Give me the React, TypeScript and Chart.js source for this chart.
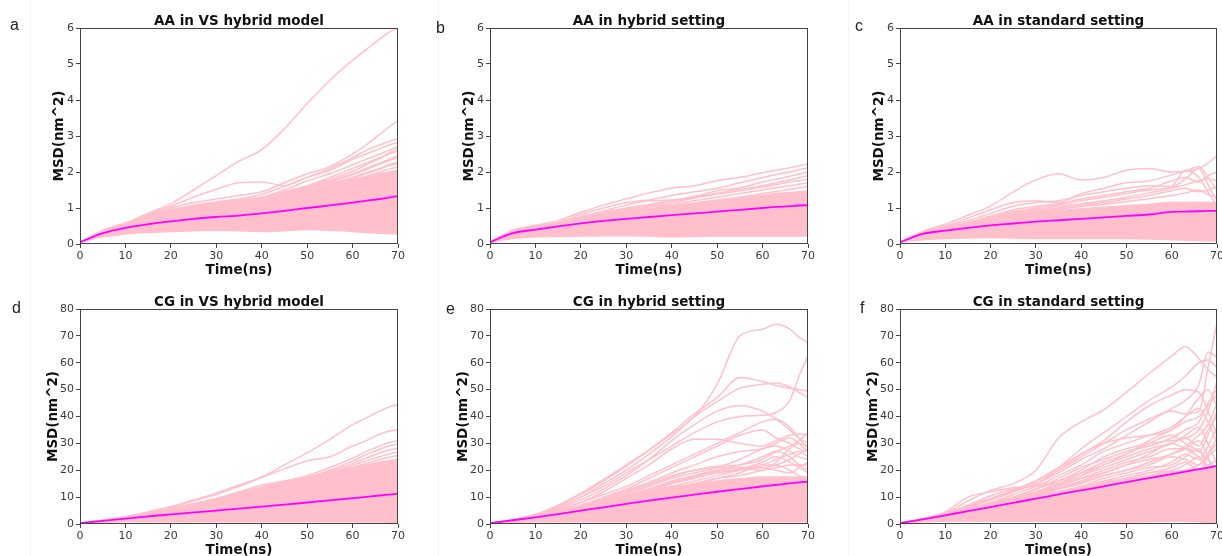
import React, { useEffect, useRef } from "react";
import { Chart, registerables } from "chart.js";

Chart.register(...registerables);

// ---------- data ----------
const TIME = [0, 5, 10, 15, 20, 25, 30, 35, 40, 45, 50, 55, 60, 63, 66, 68, 70];

// a: AA in VS hybrid model
const A_MEAN = [0.05, 0.3, 0.45, 0.55, 0.63, 0.7, 0.75, 0.79, 0.85, 0.92, 1.0, 1.07, 1.15, 1.2, 1.25, 1.29, 1.33];
const A_LOW = [0.05, 0.2, 0.28, 0.32, 0.35, 0.37, 0.38, 0.37, 0.35, 0.37, 0.4, 0.38, 0.35, 0.32, 0.3, 0.29, 0.28];
const A_HIGH = [0.05, 0.38, 0.58, 0.78, 0.95, 1.08, 1.17, 1.23, 1.3, 1.42, 1.55, 1.65, 1.8, 1.87, 1.95, 2.0, 2.05];
const A_RUN1 = [0.05, 0.33, 0.58, 0.85, 1.12, 1.5, 1.9, 2.3, 2.62, 3.2, 3.9, 4.55, 5.1, 5.4, 5.7, 5.88, 6.0];
const A_RUN2 = [0.05, 0.32, 0.55, 0.8, 1.0, 1.15, 1.25, 1.35, 1.45, 1.7, 1.95, 2.15, 2.5, 2.75, 3.05, 3.25, 3.42];
const A_RUN3 = [0.05, 0.32, 0.56, 0.82, 1.05, 1.3, 1.52, 1.7, 1.72, 1.62, 1.85, 2.1, 2.4, 2.6, 2.75, 2.85, 2.92];
const A_RUN4 = [0.05, 0.3, 0.52, 0.72, 0.9, 1.05, 1.15, 1.25, 1.38, 1.6, 1.85, 2.05, 2.35, 2.5, 2.65, 2.75, 2.82];
const A_RUN5 = [0.05, 0.3, 0.5, 0.7, 0.88, 1.0, 1.1, 1.2, 1.3, 1.5, 1.75, 1.95, 2.2, 2.35, 2.5, 2.6, 2.72];
const A_RUN6 = [0.05, 0.3, 0.5, 0.68, 0.85, 0.98, 1.08, 1.18, 1.28, 1.45, 1.62, 1.85, 2.1, 2.25, 2.4, 2.5, 2.58];
const A_RUN7 = [0.05, 0.3, 0.48, 0.65, 0.82, 0.95, 1.05, 1.15, 1.25, 1.42, 1.58, 1.75, 1.95, 2.1, 2.25, 2.35, 2.45];
const A_RUN8 = [0.05, 0.29, 0.47, 0.63, 0.8, 0.92, 1.03, 1.12, 1.2, 1.35, 1.52, 1.68, 1.85, 1.98, 2.1, 2.2, 2.28];
const A_RUN9 = [0.05, 0.3, 0.5, 0.67, 0.83, 0.96, 1.07, 1.16, 1.25, 1.4, 1.6, 1.8, 2.02, 2.2, 2.38, 2.52, 2.65];
const A_RUN10 = [0.05, 0.29, 0.48, 0.64, 0.8, 0.93, 1.04, 1.14, 1.22, 1.36, 1.54, 1.72, 1.92, 2.07, 2.22, 2.32, 2.4];
const A_RUN11 = [0.05, 0.29, 0.47, 0.62, 0.78, 0.9, 1.0, 1.1, 1.2, 1.32, 1.48, 1.64, 1.82, 1.96, 2.08, 2.18, 2.22];
const A_RUN12 = [0.05, 0.28, 0.46, 0.6, 0.75, 0.88, 0.98, 1.08, 1.17, 1.28, 1.42, 1.58, 1.75, 1.88, 2.0, 2.08, 2.14];

// b: AA in hybrid setting
const B_MEAN = [0.05, 0.3, 0.4, 0.49, 0.57, 0.64, 0.7, 0.75, 0.8, 0.85, 0.9, 0.95, 1.0, 1.03, 1.05, 1.07, 1.08];
const B_LOW = [0.05, 0.15, 0.2, 0.21, 0.22, 0.23, 0.23, 0.22, 0.2, 0.21, 0.22, 0.22, 0.22, 0.22, 0.22, 0.22, 0.22];
const B_HIGH = [0.05, 0.35, 0.5, 0.57, 0.7, 0.8, 0.9, 0.97, 1.05, 1.12, 1.2, 1.28, 1.35, 1.4, 1.43, 1.45, 1.47];
const B_RUN1 = [0.05, 0.38, 0.52, 0.65, 0.88, 1.08, 1.25, 1.42, 1.55, 1.62, 1.76, 1.85, 1.98, 2.05, 2.12, 2.17, 2.22];
const B_RUN2 = [0.05, 0.36, 0.5, 0.6, 0.82, 1.0, 1.15, 1.22, 1.35, 1.45, 1.55, 1.7, 1.85, 1.93, 2.0, 2.06, 2.12];
const B_RUN3 = [0.05, 0.35, 0.5, 0.58, 0.76, 0.92, 1.08, 1.2, 1.22, 1.32, 1.48, 1.56, 1.72, 1.8, 1.88, 1.94, 2.0];
const B_RUN4 = [0.05, 0.35, 0.49, 0.57, 0.73, 0.88, 1.0, 1.1, 1.2, 1.3, 1.42, 1.52, 1.62, 1.7, 1.78, 1.84, 1.9];
const B_RUN5 = [0.05, 0.34, 0.48, 0.56, 0.72, 0.85, 0.97, 1.06, 1.15, 1.28, 1.38, 1.48, 1.58, 1.65, 1.72, 1.76, 1.8];
const B_RUN6 = [0.05, 0.34, 0.47, 0.55, 0.7, 0.82, 0.94, 1.02, 1.1, 1.2, 1.3, 1.4, 1.5, 1.56, 1.62, 1.66, 1.7];
const B_RUN7 = [0.05, 0.33, 0.46, 0.54, 0.68, 0.8, 0.9, 0.98, 1.06, 1.14, 1.22, 1.3, 1.4, 1.46, 1.52, 1.56, 1.6];

// c: AA in standard setting
const C_MEAN = [0.05, 0.28, 0.37, 0.45, 0.52, 0.57, 0.62, 0.66, 0.7, 0.74, 0.78, 0.82, 0.89, 0.9, 0.91, 0.92, 0.92];
const C_LOW = [0.05, 0.12, 0.15, 0.17, 0.18, 0.17, 0.15, 0.15, 0.15, 0.15, 0.15, 0.14, 0.12, 0.11, 0.1, 0.09, 0.08];
const C_HIGH = [0.05, 0.32, 0.45, 0.58, 0.7, 0.8, 0.88, 0.93, 0.98, 1.02, 1.06, 1.1, 1.15, 1.15, 1.15, 1.15, 1.15];
const C_RUN1 = [0.05, 0.35, 0.55, 0.8, 1.05, 1.45, 1.78, 1.95, 1.78, 1.85, 2.05, 2.1, 2.0, 2.02, 2.1, 2.25, 2.45];
const C_RUN2 = [0.05, 0.33, 0.5, 0.72, 0.95, 1.15, 1.2, 1.15, 1.4, 1.55, 1.7, 1.75, 1.92, 2.02, 2.15, 1.85, 1.5];
const C_RUN3 = [0.05, 0.32, 0.48, 0.65, 0.85, 1.05, 1.15, 1.2, 1.35, 1.45, 1.55, 1.62, 1.6, 1.8, 2.1, 1.65, 1.2];
const C_RUN4 = [0.05, 0.3, 0.45, 0.6, 0.78, 0.95, 1.05, 1.12, 1.25, 1.35, 1.45, 1.55, 1.75, 1.85, 1.72, 1.9, 2.0];
const C_RUN5 = [0.05, 0.3, 0.44, 0.58, 0.75, 0.9, 1.0, 1.1, 1.2, 1.3, 1.4, 1.5, 1.6, 2.05, 1.85, 1.45, 1.05];
const C_RUN6 = [0.05, 0.3, 0.44, 0.57, 0.72, 0.86, 0.96, 1.05, 1.12, 1.2, 1.3, 1.42, 1.55, 1.65, 1.75, 1.82, 1.75];
const C_RUN7 = [0.05, 0.29, 0.43, 0.56, 0.7, 0.82, 0.93, 1.0, 1.08, 1.15, 1.25, 1.35, 1.48, 1.55, 1.45, 1.5, 1.6];
const C_RUN8 = [0.05, 0.29, 0.42, 0.55, 0.68, 0.8, 0.9, 0.97, 1.04, 1.1, 1.18, 1.26, 1.35, 1.42, 1.5, 1.38, 1.3];

// d: CG in VS hybrid model
const D_MEAN = [0.3, 1.2, 2.0, 2.8, 3.6, 4.3, 5.0, 5.7, 6.5, 7.2, 8.0, 8.8, 9.6, 10.1, 10.6, 10.9, 11.2];
const D_LOW = [0.3, 0.6, 0.8, 0.8, 0.8, 0.8, 0.8, 0.8, 0.8, 0.8, 0.8, 0.8, 0.8, 0.75, 0.7, 0.6, 0.5];
const D_HIGH = [0.3, 1.3, 2.4, 3.8, 5.5, 7.2, 9.0, 11.2, 13.5, 15.5, 17.5, 19.5, 21.0, 22.0, 23.0, 23.5, 24.0];
const D_RUN1 = [0.3, 1.4, 2.8, 4.5, 6.5, 9.0, 11.5, 14.5, 17.5, 22.0, 26.5, 31.5, 37.0, 39.5, 42.0, 43.5, 44.5];
const D_RUN2 = [0.3, 1.4, 2.7, 4.3, 6.3, 8.6, 11.0, 14.0, 17.3, 20.5, 23.5, 25.0, 29.0, 31.0, 33.5, 34.5, 35.0];
const D_RUN3 = [0.3, 1.3, 2.5, 4.0, 5.8, 7.6, 9.5, 12.0, 14.5, 16.0, 18.0, 21.0, 24.5, 27.0, 29.0, 30.3, 31.0];
const D_RUN4 = [0.3, 1.3, 2.5, 3.9, 5.7, 7.4, 9.3, 11.6, 13.8, 15.6, 17.2, 20.0, 23.5, 25.8, 27.8, 29.0, 29.8];
const D_RUN5 = [0.3, 1.3, 2.4, 3.9, 5.6, 7.3, 9.2, 11.4, 13.6, 15.4, 17.0, 19.5, 22.5, 24.5, 26.5, 27.5, 28.2];
const D_RUN6 = [0.3, 1.3, 2.4, 3.8, 5.5, 7.2, 9.1, 11.3, 13.5, 15.3, 16.8, 19.0, 21.8, 23.5, 25.0, 26.0, 26.8];
const D_RUN7 = [0.3, 1.3, 2.4, 3.8, 5.5, 7.2, 9.0, 11.2, 13.5, 15.2, 16.6, 18.5, 21.0, 22.5, 24.0, 24.8, 25.5];

// e: CG in hybrid setting
const E_MEAN = [0.3, 1.4, 2.5, 3.7, 5.0, 6.2, 7.5, 8.7, 9.8, 10.9, 12.0, 13.0, 14.0, 14.6, 15.1, 15.5, 15.8];
const E_LOW = [0.3, 0.6, 0.8, 0.8, 0.8, 0.8, 0.8, 0.8, 0.8, 0.8, 0.8, 0.8, 0.8, 0.8, 0.8, 0.8, 0.8];
const E_HIGH = [0.3, 1.5, 3.0, 4.8, 6.8, 8.8, 10.5, 12.2, 13.8, 15.0, 16.0, 16.8, 17.5, 17.5, 17.5, 17.5, 17.5];
const E_RUN1 = [0.3, 1.6, 3.6, 7.0, 11.5, 16.5, 22.0, 27.5, 33.5, 40.0, 52.0, 70.0, 72.5, 74.3, 72.5, 69.5, 67.5];
const E_RUN2 = [0.3, 1.6, 3.4, 6.6, 11.0, 16.0, 21.5, 27.5, 34.0, 41.0, 47.0, 54.5, 53.0, 51.5, 50.5, 50.0, 49.5];
const E_RUN3 = [0.3, 1.5, 3.2, 6.0, 10.0, 14.0, 19.0, 24.0, 29.0, 34.0, 38.0, 40.0, 40.5, 41.5, 46.0, 55.0, 62.5];
const E_RUN4 = [0.3, 1.5, 3.2, 6.0, 10.0, 15.0, 20.0, 26.0, 32.5, 40.0, 45.5, 50.5, 52.0, 52.5, 51.0, 49.0, 47.0];
const E_RUN5 = [0.3, 1.5, 3.0, 5.5, 9.0, 13.0, 18.0, 24.0, 31.0, 37.0, 42.0, 44.0, 42.0, 39.0, 35.0, 32.0, 30.0];
const E_RUN6 = [0.3, 1.4, 2.8, 5.0, 8.0, 11.0, 14.0, 18.0, 22.0, 26.0, 30.0, 34.0, 38.0, 39.0, 36.0, 32.0, 28.0];
const E_RUN7 = [0.3, 1.4, 2.8, 5.0, 8.0, 12.0, 17.0, 22.0, 28.0, 31.5, 31.5, 30.0, 29.0, 31.0, 33.0, 33.5, 33.0];
const E_RUN8 = [0.3, 1.3, 2.6, 4.6, 7.0, 10.0, 13.0, 17.0, 21.0, 25.0, 29.0, 33.0, 35.0, 32.0, 30.0, 28.0, 27.0];
const E_RUN9 = [0.3, 1.3, 2.5, 4.3, 6.5, 9.0, 12.0, 15.0, 18.0, 20.0, 21.0, 21.0, 20.0, 23.0, 28.0, 30.0, 29.0];
const E_RUN10 = [0.3, 1.2, 2.4, 4.0, 6.0, 8.5, 11.0, 14.0, 17.0, 19.0, 21.0, 24.0, 28.0, 29.0, 27.0, 25.0, 24.0];
const E_RUN11 = [0.3, 1.2, 2.3, 3.8, 5.6, 8.0, 10.5, 13.0, 16.0, 18.0, 20.0, 22.0, 25.0, 27.0, 25.0, 22.0, 20.0];
const E_RUN12 = [0.3, 1.2, 2.3, 3.6, 5.3, 7.3, 9.5, 12.0, 15.0, 17.0, 19.0, 20.0, 22.0, 24.0, 26.0, 27.0, 25.0];
const E_RUN13 = [0.3, 1.1, 2.2, 3.5, 5.0, 7.0, 9.0, 11.0, 13.0, 15.0, 17.0, 18.0, 20.0, 21.0, 22.0, 22.0, 22.0];
const E_RUN14 = [0.3, 1.3, 2.6, 4.4, 6.8, 9.5, 12.5, 15.5, 19.0, 22.0, 25.0, 27.0, 28.0, 30.0, 32.0, 30.0, 27.0];
const E_RUN15 = [0.3, 1.3, 2.5, 4.2, 6.3, 8.8, 11.5, 14.5, 17.5, 20.0, 21.5, 22.0, 24.0, 27.0, 29.0, 31.0, 34.0];
const E_RUN16 = [0.3, 1.2, 2.4, 4.0, 6.0, 8.2, 10.5, 13.0, 15.5, 18.0, 20.0, 21.0, 21.0, 22.0, 24.0, 26.0, 28.0];
const E_RUN17 = [0.3, 1.2, 2.3, 3.8, 5.7, 7.8, 10.0, 12.5, 15.0, 17.5, 19.5, 20.5, 23.0, 25.0, 23.0, 21.0, 19.0];
const E_RUN18 = [0.3, 1.2, 2.3, 3.7, 5.5, 7.5, 9.5, 12.0, 14.0, 16.0, 18.0, 20.0, 21.0, 20.0, 19.0, 21.0, 23.0];
const E_RUN19 = [0.3, 1.1, 2.2, 3.6, 5.2, 7.0, 9.0, 11.0, 13.0, 15.0, 17.0, 19.0, 22.0, 22.0, 20.0, 18.0, 17.0];

// f: CG in standard setting
const F_MEAN = [0.3, 1.7, 3.2, 4.8, 6.3, 7.9, 9.4, 11.0, 12.5, 14.0, 15.6, 17.1, 18.6, 19.5, 20.4, 21.0, 21.6];
const F_LOW = [0.3, 0.8, 1.0, 1.0, 1.0, 1.0, 1.0, 1.0, 1.0, 0.9, 0.7, 0.8, 1.0, 1.0, 0.8, 0.5, 0.2];
const F_HIGH = [0.3, 1.8, 3.6, 5.5, 7.5, 9.0, 10.5, 12.0, 13.5, 15.0, 16.5, 18.0, 19.5, 20.0, 20.5, 21.0, 21.5];
const F_RUN1 = [0.3, 2.0, 4.0, 8.5, 12.5, 15.0, 20.0, 32.0, 38.0, 42.5, 49.0, 56.0, 62.5, 66.0, 61.5, 57.5, 54.5];
const F_RUN2 = [0.3, 1.8, 3.8, 6.8, 9.5, 12.5, 16.0, 21.0, 28.0, 34.0, 40.0, 46.0, 51.0, 55.0, 60.0, 61.0, 58.0];
const F_RUN3 = [0.3, 1.8, 3.6, 6.5, 9.5, 12.5, 16.0, 20.0, 25.0, 30.0, 35.0, 39.0, 42.0, 41.0, 42.0, 58.0, 75.0];
const F_RUN4 = [0.3, 1.7, 3.5, 6.0, 9.0, 12.0, 15.0, 19.0, 24.0, 28.0, 33.0, 38.0, 43.0, 46.0, 52.0, 64.0, 62.0];
const F_RUN5 = [0.3, 1.7, 3.5, 6.0, 9.0, 12.0, 16.0, 21.0, 26.0, 31.0, 38.0, 44.0, 48.0, 50.0, 49.0, 42.0, 33.0];
const F_RUN6 = [0.3, 1.7, 3.4, 6.0, 9.0, 12.0, 15.0, 20.0, 26.0, 30.0, 32.0, 33.0, 35.0, 40.0, 47.0, 50.0, 44.0];
const F_RUN7 = [0.3, 1.6, 3.3, 5.5, 8.0, 11.0, 14.0, 18.0, 22.0, 27.0, 30.0, 33.0, 36.0, 40.0, 43.0, 38.0, 30.0];
const F_RUN8 = [0.3, 1.6, 3.2, 5.3, 7.8, 10.0, 13.0, 16.0, 20.0, 25.0, 28.0, 30.0, 31.0, 32.0, 35.0, 42.0, 53.0];
const F_RUN9 = [0.3, 1.6, 3.0, 5.0, 7.5, 10.0, 12.0, 15.0, 18.0, 21.0, 24.0, 27.0, 30.0, 33.0, 36.0, 30.0, 22.0];
const F_RUN10 = [0.3, 1.5, 3.0, 5.0, 7.0, 9.0, 11.0, 14.0, 17.0, 20.0, 23.0, 25.0, 28.0, 28.0, 27.0, 33.0, 42.0];
const F_RUN11 = [0.3, 1.5, 2.9, 4.8, 6.8, 8.8, 10.5, 13.0, 15.0, 18.0, 20.0, 23.0, 26.0, 28.0, 31.0, 25.0, 15.0];
const F_RUN12 = [0.3, 1.5, 2.8, 4.6, 6.5, 8.5, 10.0, 12.0, 14.0, 16.0, 18.0, 20.0, 23.0, 26.0, 24.0, 29.0, 36.0];
const F_RUN13 = [0.3, 2.0, 4.5, 10.0, 12.0, 13.5, 14.0, 15.0, 17.0, 19.0, 22.0, 26.0, 30.0, 28.0, 25.0, 22.0, 24.0];
const F_RUN14 = [0.3, 1.5, 2.8, 4.5, 6.2, 8.0, 9.5, 11.0, 13.0, 15.0, 17.0, 19.0, 20.0, 22.0, 25.0, 18.0, 8.0];
const F_RUN15 = [0.3, 1.4, 2.7, 4.3, 6.0, 7.5, 9.0, 10.5, 12.0, 13.0, 14.0, 16.0, 18.0, 20.0, 22.0, 26.0, 30.0];
const F_RUN16 = [0.3, 1.6, 3.2, 5.2, 7.5, 10.0, 13.0, 17.0, 21.0, 24.0, 27.0, 29.0, 32.0, 35.0, 38.0, 45.0, 50.0];
const F_RUN17 = [0.3, 1.6, 3.1, 5.0, 7.2, 9.5, 12.0, 15.0, 19.0, 23.0, 26.0, 30.0, 33.0, 30.0, 27.0, 24.0, 20.0];
const F_RUN18 = [0.3, 1.5, 3.0, 4.9, 7.0, 9.2, 11.5, 14.5, 18.0, 22.0, 25.0, 28.0, 30.0, 32.0, 29.0, 35.0, 40.0];
const F_RUN19 = [0.3, 1.5, 2.9, 4.7, 6.7, 8.8, 11.0, 13.5, 16.0, 19.0, 22.0, 24.0, 26.0, 29.0, 33.0, 37.0, 45.0];
const F_RUN20 = [0.3, 1.5, 2.8, 4.5, 6.4, 8.4, 10.5, 13.0, 15.5, 18.0, 20.0, 22.0, 25.0, 24.0, 22.0, 26.0, 32.0];
const F_RUN21 = [0.3, 1.4, 2.7, 4.4, 6.2, 8.0, 10.0, 12.0, 14.0, 17.0, 19.0, 21.0, 22.0, 25.0, 28.0, 20.0, 10.0];
const F_RUN22 = [0.3, 1.4, 2.7, 4.3, 6.0, 7.8, 9.5, 11.5, 13.5, 15.5, 17.0, 19.0, 21.0, 23.0, 20.0, 25.0, 28.0];
const F_RUN23 = [0.3, 2.0, 4.0, 7.0, 10.5, 13.0, 14.5, 16.0, 19.0, 22.0, 26.0, 31.0, 35.0, 38.0, 40.0, 44.0, 48.0];

const LETTERS = ["a", "b", "c", "d", "e", "f"];
const TITLES = [
  "AA in VS hybrid model",
  "AA in hybrid setting",
  "AA in standard setting",
  "CG in VS hybrid model",
  "CG in hybrid setting",
  "CG in standard setting",
];
const Y_MAX = [6, 6, 6, 80, 80, 80];
const Y_STEP = [1, 1, 1, 10, 10, 10];
const X_MAX = 70;
const X_STEP = 10;
const X_LABEL = "Time(ns)";
const Y_LABEL = "MSD(nm^2)";

const SERIES = [
  {
    mean: A_MEAN, low: A_LOW, high: A_HIGH,
    runs: [A_RUN1, A_RUN2, A_RUN3, A_RUN4, A_RUN5, A_RUN6, A_RUN7, A_RUN8, A_RUN9, A_RUN10, A_RUN11, A_RUN12],
  },
  { mean: B_MEAN, low: B_LOW, high: B_HIGH, runs: [B_RUN1, B_RUN2, B_RUN3, B_RUN4, B_RUN5, B_RUN6, B_RUN7] },
  { mean: C_MEAN, low: C_LOW, high: C_HIGH, runs: [C_RUN1, C_RUN2, C_RUN3, C_RUN4, C_RUN5, C_RUN6, C_RUN7, C_RUN8] },
  { mean: D_MEAN, low: D_LOW, high: D_HIGH, runs: [D_RUN1, D_RUN2, D_RUN3, D_RUN4, D_RUN5, D_RUN6, D_RUN7] },
  {
    mean: E_MEAN, low: E_LOW, high: E_HIGH,
    runs: [E_RUN1, E_RUN2, E_RUN3, E_RUN4, E_RUN5, E_RUN6, E_RUN7, E_RUN8, E_RUN9, E_RUN10, E_RUN11, E_RUN12, E_RUN13,
      E_RUN14, E_RUN15, E_RUN16, E_RUN17, E_RUN18, E_RUN19],
  },
  {
    mean: F_MEAN, low: F_LOW, high: F_HIGH,
    runs: [F_RUN1, F_RUN2, F_RUN3, F_RUN4, F_RUN5, F_RUN6, F_RUN7, F_RUN8, F_RUN9, F_RUN10, F_RUN11, F_RUN12, F_RUN13,
      F_RUN14, F_RUN15, F_RUN16, F_RUN17, F_RUN18, F_RUN19, F_RUN20, F_RUN21, F_RUN22, F_RUN23],
  },
];

// ---------- layout ----------
const LAYOUT = [
  { left: 80, top: 28, w: 318, h: 216, letterX: 10, letterBase: 30, titleBase: 25, yTitleX: 59 },
  { left: 490, top: 28, w: 318, h: 216, letterX: 436, letterBase: 33, titleBase: 25, yTitleX: 469 },
  { left: 900, top: 28, w: 317, h: 216, letterX: 855, letterBase: 31, titleBase: 25, yTitleX: 879 },
  { left: 80, top: 309, w: 318, h: 215, letterX: 12, letterBase: 313, titleBase: 305.5, yTitleX: 53 },
  { left: 490, top: 309, w: 318, h: 215, letterX: 446, letterBase: 314, titleBase: 305.5, yTitleX: 463 },
  { left: 900, top: 309, w: 317, h: 215, letterX: 860, letterBase: 313, titleBase: 305.5, yTitleX: 873 },
];
const Y_AXIS_W = 40;
const X_AXIS_H = 35;
const PAD_TOP = 10;
const PAD_RIGHT = 10;

const PINK = "#ffc0cb";
const MAGENTA = "#ff00ff";
const FRAME = "#444444";
const TICK_COLOR = "#3a3a3a";
const FONT = "'DejaVu Sans', sans-serif";
const TITLE_SIZE = 13.5;

const toXY = (arr: number[]) => TIME.map((t, i) => ({ x: t, y: arr[i] }));

const framePlugin = {
  id: "frame",
  afterDatasetsDraw(chart: any) {
    const { ctx, chartArea } = chart;
    ctx.save();
    ctx.strokeStyle = FRAME;
    ctx.lineWidth = 1;
    const l = Math.round(chartArea.left) + 0.5;
    const t = Math.round(chartArea.top) + 0.5;
    const r = Math.round(chartArea.right) - 0.5;
    const b = Math.round(chartArea.bottom) - 0.5;
    ctx.strokeRect(l, t, r - l, b - t);
    ctx.restore();
  },
};

function Panel({ idx }: { idx: number }) {
  const ref = useRef<HTMLCanvasElement>(null);
  const L = LAYOUT[idx];
  const cw = Y_AXIS_W + L.w + PAD_RIGHT;
  const ch = PAD_TOP + L.h + X_AXIS_H;
  const canvasLeft = L.left - Y_AXIS_W;

  useEffect(() => {
    const s = SERIES[idx];
    const datasets: any[] = [];
    datasets.push({ data: toXY(s.mean), borderColor: MAGENTA, borderWidth: 1.8, fill: false });
    s.runs.forEach((r) => datasets.push({ data: toXY(r), borderColor: PINK, borderWidth: 1.5, fill: false }));
    datasets.push({ data: toXY(s.high), borderColor: PINK, borderWidth: 1.5, backgroundColor: PINK, fill: "+1" });
    datasets.push({ data: toXY(s.low), borderColor: PINK, borderWidth: 1.5, fill: false });

    const tickFont = { family: FONT, size: 11 };
    const titleFont = { family: FONT, size: TITLE_SIZE, weight: "bold" as const, lineHeight: 1.2 };
    const yTitlePad = L.yTitleX - canvasLeft - (TITLE_SIZE * 1.2) / 2;

    const chart = new Chart(ref.current as HTMLCanvasElement, {
      type: "line",
      data: { datasets },
      plugins: [framePlugin],
      options: {
        animation: false,
        responsive: false,
        devicePixelRatio: 1,
        layout: { padding: { top: PAD_TOP, right: PAD_RIGHT, left: 0, bottom: 0 } },
        plugins: { legend: { display: false }, tooltip: { enabled: false }, title: { display: false } },
        elements: {
          point: { radius: 0, hoverRadius: 0 },
          line: { cubicInterpolationMode: "monotone" },
        },
        scales: {
          x: {
            type: "linear",
            min: 0,
            max: X_MAX,
            ticks: { stepSize: X_STEP, color: TICK_COLOR, font: tickFont, padding: 2, maxRotation: 0 },
            grid: { drawOnChartArea: false, drawTicks: true, tickLength: 4, tickColor: FRAME },
            border: { display: false },
            title: { display: true, text: X_LABEL, color: "#111", font: titleFont, padding: { top: 0, bottom: 0 } },
            afterFit: (sc: any) => {
              sc.height = X_AXIS_H;
            },
          },
          y: {
            type: "linear",
            min: 0,
            max: Y_MAX[idx],
            ticks: { stepSize: Y_STEP[idx], color: TICK_COLOR, font: tickFont, padding: 2 },
            grid: { drawOnChartArea: false, drawTicks: true, tickLength: 4, tickColor: FRAME },
            border: { display: false },
            title: {
              display: true,
              text: Y_LABEL,
              color: "#111",
              font: titleFont,
              padding: { top: yTitlePad, bottom: 0 },
            },
            afterFit: (sc: any) => {
              sc.width = Y_AXIS_W;
            },
          },
        },
      } as any,
    });
    return () => chart.destroy();
  }, [idx]);

  return (
    <>
      <canvas
        ref={ref}
        width={cw}
        height={ch}
        style={{ position: "absolute", left: canvasLeft, top: L.top - PAD_TOP, width: cw, height: ch }}
      />
      <div
        style={{
          position: "absolute",
          left: L.left,
          width: L.w,
          top: L.titleBase - 12.7,
          lineHeight: "16px",
          fontFamily: FONT,
          fontWeight: "bold",
          fontSize: TITLE_SIZE,
          color: "#111",
          textAlign: "center",
          whiteSpace: "nowrap",
        }}
      >
        {TITLES[idx]}
      </div>
      <div
        style={{
          position: "absolute",
          left: L.letterX,
          top: L.letterBase - 13.5,
          lineHeight: "16px",
          fontFamily: "'Liberation Sans', Arial, sans-serif",
          fontSize: 16,
          color: "#222",
        }}
      >
        {LETTERS[idx]}
      </div>
    </>
  );
}

export default function App() {
  return (
    <div
      style={{
        position: "fixed",
        left: 0,
        top: 0,
        width: 1222,
        height: 556,
        overflow: "hidden",
        background: "#fff",
      }}
    >
      {[30, 438, 848].map((x) => (
        <div key={x} style={{ position: "absolute", left: x, top: 0, width: 1, height: 556, background: "#f3f3f3" }} />
      ))}
      {LAYOUT.map((_, i) => (
        <Panel key={i} idx={i} />
      ))}
    </div>
  );
}
